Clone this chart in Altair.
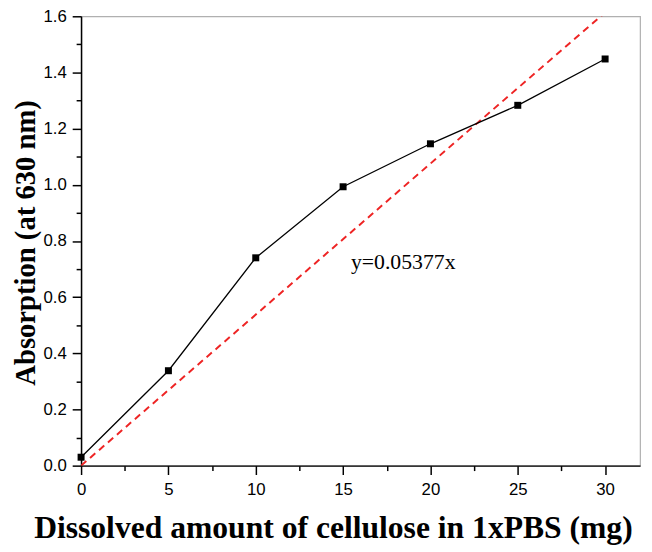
import altair as alt
import pandas as pd

# Data
mass_mg = [0, 5, 10, 15, 20, 25, 30]
absorption = [0.03, 0.338, 0.74, 0.993, 1.146, 1.283, 1.448]

fit_x = [0, 32]
fit_y = [0, 1.7206]  # y = 0.05377x, clipped at the plot top

x_ticks = [0, 2.5, 5, 7.5, 10, 12.5, 15, 17.5, 20, 22.5, 25, 27.5, 30]
y_ticks = [0, 0.1, 0.2, 0.3, 0.4, 0.5, 0.6, 0.7, 0.8, 0.9, 1.0, 1.1, 1.2, 1.3, 1.4, 1.5, 1.6]

annot_x = [15.45]
annot_y = [0.725]
annot_text = ["y=0.05377x"]

df = pd.DataFrame({"x": mass_mg, "y": absorption})
fit = pd.DataFrame({"x": fit_x, "y": fit_y})
ann = pd.DataFrame({"x": annot_x, "y": annot_y, "t": annot_text})

X = alt.X(
    "x:Q",
    scale=alt.Scale(domain=[0, 32], nice=False, zero=False),
    axis=alt.Axis(
        values=x_ticks,
        title="Dissolved amount of cellulose in 1xPBS (mg)",
        labelExpr="datum.value % 5 == 0 ? datum.label : ''",
        tickSize={"condition": {"test": "datum.value % 5 == 0", "value": 9}, "value": 5},
        labelPadding=7,
        labelFlush=False,
        titleX=255,
        titleY=73,
        titleAlign="center",
        titleBaseline="alphabetic",
        titleFontSize=32,
    ),
)
Y = alt.Y(
    "y:Q",
    scale=alt.Scale(domain=[0, 1.6], nice=False, zero=False),
    axis=alt.Axis(
        values=y_ticks,
        title="Absorption (at 630 nm)",
        labelExpr="round(datum.value*10) % 2 == 0 ? format(datum.value, '.1f') : ''",
        tickSize={"condition": {"test": "round(datum.value*10) % 2 == 0", "value": 9}, "value": 5},
        labelPadding=6,
        labelFlush=False,
        titleX=-47,
        titleY=229,
        titleAngle=270,
        titleAlign="center",
        titleBaseline="alphabetic",
        titleFontSize=29,
    ),
)

line = alt.Chart(df).mark_line(color="black", strokeWidth=1.3).encode(x=X, y=Y)
pts = alt.Chart(df).mark_point(shape="square", filled=True, color="black", size=50, opacity=1).encode(x=X, y=Y)
fitline = alt.Chart(fit).mark_line(color="#ee2424", strokeWidth=2, strokeDash=[7, 5], clip=True).encode(x=X, y=Y)
txt = alt.Chart(ann).mark_text(
    align="left", baseline="middle", font="Liberation Serif", fontSize=22, color="black"
).encode(x=X, y=Y, text="t:N")

chart = (
    alt.layer(fitline, line, pts, txt)
    .properties(
        width=566,
        height=455,
        autosize=alt.AutoSizeParams(type="none"),
        padding={"left": 74, "top": 5, "right": 4, "bottom": 80},
    )
    .configure_view(stroke="#b0b0b0", strokeWidth=1.2)
    .configure_axis(
        grid=False,
        domainColor="black",
        domainWidth=1.5,
        tickColor="black",
        tickWidth=1.5,
        labelFont="Liberation Sans",
        labelFontSize=17,
        labelColor="black",
        titleFont="Liberation Serif",
        titleFontWeight="bold",
        titleColor="black",
    )
)

chart.save("out.html", embed_options={"renderer": "svg", "actions": False})
